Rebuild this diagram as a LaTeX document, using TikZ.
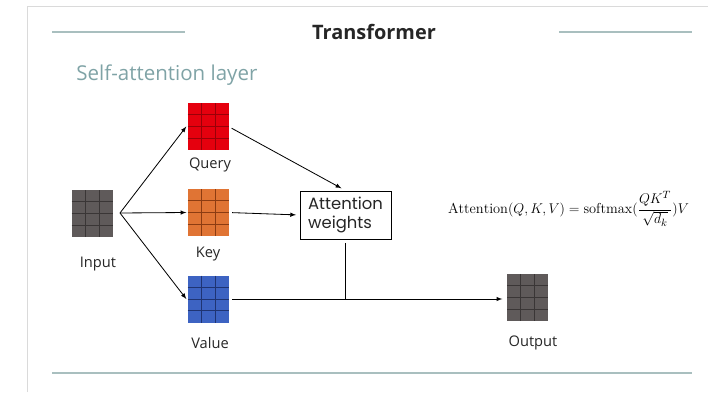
\documentclass[tikz,border=0pt]{standalone}
\usepackage{amsmath}
\usepackage{fontspec}
\newfontfamily\slidefont{Open Sans}
\newfontfamily\boxfont{Poppins}
\usetikzlibrary{arrows.meta, calc}
\definecolor{frameColor}{HTML}{DADADA}
\definecolor{ruleColor}{HTML}{A9BFBF}
\definecolor{subColor}{HTML}{7FA3A6}
\definecolor{inputColor}{HTML}{5F5A5A}
\definecolor{inputGrid}{HTML}{3A3636}
\definecolor{queryColor}{HTML}{E5000E}
\definecolor{queryGrid}{HTML}{9A0008}
\definecolor{keyColor}{HTML}{E07434}
\definecolor{keyGrid}{HTML}{8C3C12}
\definecolor{valueColor}{HTML}{3D63C2}
\definecolor{valueGrid}{HTML}{1F3472}

\begin{document}
\begin{tikzpicture}[x=0.03cm, y=-0.03cm, >=latex, line width=0.7pt]
		
		\useasboundingbox (0,0) rectangle (708,392);
		
		% --- 1. Slide frame and rules ---
		\draw[frameColor, line width=0.6pt] (27,392) -- (27,6) -- (708,6);
		\draw[ruleColor, line width=2.4pt] (52,32) -- (185,32);
		\draw[ruleColor, line width=2.4pt] (559,32) -- (692,32);
		\draw[ruleColor, line width=2.4pt] (52,373) -- (692,373);
		
		% --- 2. Titles ---
		\node[font=\slidefont\fontsize{17}{20}\selectfont\bfseries, text=black!85] (title) at (374,32) {Transformer};
		\node[font=\slidefont\fontsize{17.5}{21}\selectfont, text=subColor, anchor=west, inner sep=0pt] (subtitle) at (76,75) {Self-attention layer};
		
		% --- 3. The matrices ---
		\tikzset{mat/.style={minimum width=1.23cm, minimum height=1.41cm, inner sep=0pt, outer sep=0pt}}
		\node[mat, fill=inputColor] (input) at (92,213.5) {};
		\node[mat, fill=queryColor] (query) at (208,126.5) {};
		\node[mat, fill=keyColor] (key) at (208,212.5) {};
		\node[mat, fill=valueColor] (value) at (208,299) {};
		\node[mat, fill=inputColor] (output) at (527.5,297.5) {};
		
		% grid lines, 3 columns and 4 rows
		\foreach \m/\c in {input/inputGrid, query/queryGrid, key/keyGrid, value/valueGrid, output/inputGrid} {
			\foreach \i in {1,2}
				\draw[\c, line width=0.5pt] ($(\m.north west)!\i/3!(\m.north east)$) -- ($(\m.south west)!\i/3!(\m.south east)$);
			\foreach \j in {1,2,3}
				\draw[\c, line width=0.5pt] ($(\m.north west)!\j/4!(\m.south west)$) -- ($(\m.north east)!\j/4!(\m.south east)$);
		}
		
		% --- 4. Labels ---
		\tikzset{lbl/.style={font=\slidefont\fontsize{12.5}{15}\selectfont, text=black!85}}
		\node[lbl] (inputlbl) at (98,264) {Input};
		\node[lbl] (querylbl) at (210,165) {Query};
		\node[lbl] (keylbl) at (208,254) {Key};
		\node[lbl] (valuelbl) at (210,343) {Value};
		\node[lbl] (outputlbl) at (533,343) {Output};
		
		% --- 5. Attention weights box ---
		\node[draw, line width=0.8pt, minimum width=2.73cm, minimum height=1.44cm, align=left, inner sep=2pt,
		font=\boxfont\fontsize{14}{16}\selectfont, text=black!85] (attn) at (345.5,215) {Attention\\weights};
		
		% --- 6. Connectors ---
		\coordinate (split) at (120,213);
		\foreach \t in {query, key, value} {
			\draw[->] (split) -- ([xshift=-1pt]\t.west);
		}
		\draw[->, shorten <=3pt, shorten >=4pt] (query.east) -- (attn.north);
		\draw[->, shorten <=3pt, shorten >=3pt] (key.east) -- (attn.west);
		\draw[->, shorten <=3pt, shorten >=4pt] (value.east) -- (output.west |- value.east);
		\draw[shorten <=3pt] (attn.south) -- (attn.south |- value.east);
		
		% --- 7. Formula ---
		\node[font=\fontsize{12.3}{15}\selectfont] (formula) at (568.5,209) {$\mathrm{Attention}(Q,K,V)=\mathrm{softmax}(\dfrac{QK^T}{\sqrt{d_k}})V$};
		
	\end{tikzpicture}
\end{document}
